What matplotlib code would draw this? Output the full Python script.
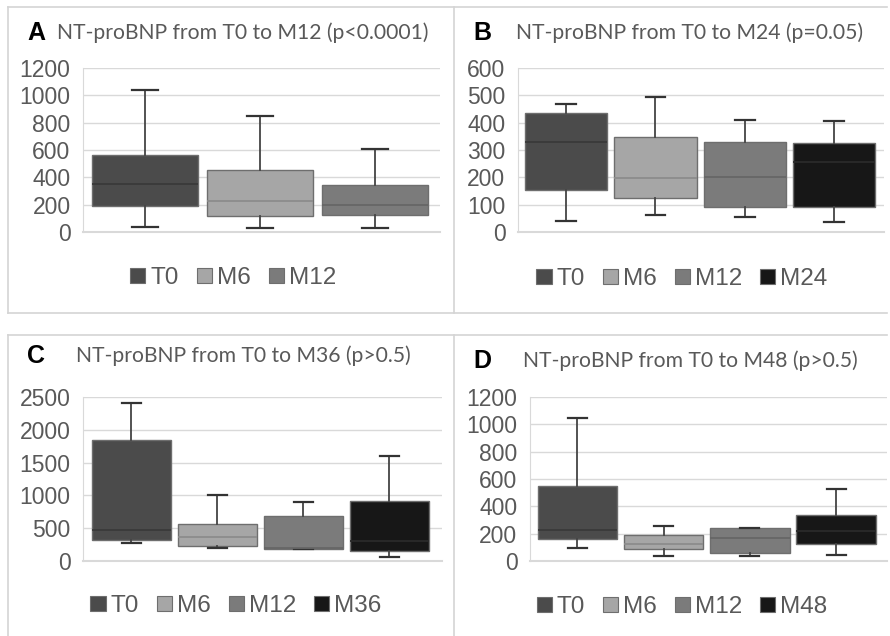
import matplotlib
matplotlib.use("Agg")
import matplotlib.pyplot as plt
from matplotlib.patches import Patch
from matplotlib.lines import Line2D

W, H = 890, 636

# ---------------- data ----------------
labels_A = ["T0", "M6", "M12"]
low_A = [39, 29, 29]
q1_A = [193, 115, 122]
med_A = [351, 229, 195]
q3_A = [561, 456, 346]
high_A = [1041, 846, 607]

labels_B = ["T0", "M6", "M12", "M24"]
low_B = [41, 62, 54, 38]
q1_B = [154, 124, 91, 90]
med_B = [329, 198, 202, 255]
q3_B = [435, 348, 329, 326]
high_B = [470, 494, 410, 405]

labels_C = ["T0", "M6", "M12", "M36"]
low_C = [269, 203, 183, 61]
q1_C = [315, 229, 183, 157]
med_C = [467, 361, 198, 305]
q3_C = [1839, 569, 691, 909]
high_C = [2403, 1011, 904, 1600]

labels_D = ["T0", "M6", "M12", "M48"]
low_D = [95, 37, 37, 44]
q1_D = [163, 85, 59, 124]
med_D = [224, 122, 166, 217]
q3_D = [546, 188, 241, 334]
high_D = [1046, 254, 241, 527]

titles = ["NT-proBNP from T0 to M12 (p<0.0001)",
          "NT-proBNP from T0 to M24 (p=0.05)",
          "NT-proBNP from T0 to M36 (p>0.5)",
          "NT-proBNP from T0 to M48 (p>0.5)"]
letters = ["A", "B", "C", "D"]
yticks_A = [0, 200, 400, 600, 800, 1000, 1200]
yticks_B = [0, 100, 200, 300, 400, 500, 600]
yticks_C = [0, 500, 1000, 1500, 2000, 2500]
yticks_D = [0, 200, 400, 600, 800, 1000, 1200]

colors = {"T0": "#4b4b4b", "M6": "#a6a6a6", "M12": "#7b7b7b",
          "M24": "#171717", "M36": "#171717", "M48": "#171717"}
med_colors = {"T0": "#3a3a3a", "M6": "#8c8c8c", "M12": "#666666",
              "M24": "#2a2a2a", "M36": "#2a2a2a", "M48": "#2a2a2a"}

panels = [
    dict(labels=labels_A, low=low_A, q1=q1_A, med=med_A, q3=q3_A, high=high_A,
         yticks=yticks_A, ax=(83, 68, 440, 232), xlim=(-0.54, 2.565),
         letter_xy=(27, 33), title_x=57, leg=(233, 278)),
    dict(labels=labels_B, low=low_B, q1=q1_B, med=med_B, q3=q3_B, high=high_B,
         yticks=yticks_B, ax=(518, 68, 884, 232), xlim=(-0.54, 3.56),
         letter_xy=(473, 33), title_x=516, leg=(682, 279)),
    dict(labels=labels_C, low=low_C, q1=q1_C, med=med_C, q3=q3_C, high=high_C,
         yticks=yticks_C, ax=(83, 397, 442, 561), xlim=(-0.56, 3.61),
         letter_xy=(27, 356), title_x=76, leg=(236, 606)),
    dict(labels=labels_D, low=low_D, q1=q1_D, med=med_D, q3=q3_D, high=high_D,
         yticks=yticks_D, ax=(530, 397, 887, 561), xlim=(-0.55, 3.59),
         letter_xy=(473, 361), title_x=523, leg=(682, 607)),
]

fig = plt.figure(figsize=(W / 100, H / 100), dpi=100)
fig.patch.set_facecolor("white")

def fx(x):
    return x / W

def fy(y):
    return 1 - y / H

# panel borders
border = "#d4d4d4"
for (x0, y0, x1, y1) in [(8, 7, 887, 7), (8, 7, 8, 313), (454, 7, 454, 313),
                         (8, 313, 887, 313), (8, 335, 887, 335),
                         (8, 335, 8, 636), (454, 335, 454, 636)]:
    fig.add_artist(Line2D([fx(x0), fx(x1)], [fy(y0), fy(y1)], color=border, lw=1.2))

grid_c = "#d9d9d9"
text_c = "#595959"

for i, p in enumerate(panels):
    x0, y0, x1, y1 = p["ax"]
    ax = fig.add_axes([fx(x0), fy(y1), fx(x1) - fx(x0), (y1 - y0) / H])
    n = len(p["labels"])
    stats = []
    for k in range(n):
        stats.append(dict(label=p["labels"][k], whislo=p["low"][k], q1=p["q1"][k],
                          med=p["med"][k], q3=p["q3"][k], whishi=p["high"][k], fliers=[]))
    bp = ax.bxp(stats, positions=list(range(n)), widths=0.92, patch_artist=True,
                showfliers=False, capwidths=0.22,
                whiskerprops=dict(color="#444444", lw=1.3),
                capprops=dict(color="#333333", lw=1.6),
                boxprops=dict(lw=1.0), medianprops=dict(lw=1.3), zorder=3)
    for k, lab in enumerate(p["labels"]):
        bp["boxes"][k].set_facecolor(colors[lab])
        bp["boxes"][k].set_edgecolor("#6e6e6e")
        bp["medians"][k].set_color(med_colors[lab])
    ax.set_xlim(*p["xlim"])
    ax.set_ylim(p["yticks"][0], p["yticks"][-1])
    ax.set_yticks(p["yticks"])
    ax.set_xticks([])
    ax.yaxis.grid(True, color=grid_c, lw=1.0, zorder=0)
    ax.set_axisbelow(True)
    for s in ["top", "right"]:
        ax.spines[s].set_visible(False)
    ax.spines["left"].set_color(grid_c)
    ax.spines["bottom"].set_color(grid_c)
    ax.spines["bottom"].set_linewidth(1.5)
    ax.tick_params(axis="y", length=0, pad=9, labelsize=16.5, labelcolor=text_c)
    for t in ax.get_yticklabels():
        t.set_fontfamily("Liberation Sans")

    # letter + title
    lx, ly = p["letter_xy"]
    fig.text(fx(lx), fy(ly), letters[i], fontsize=18, fontweight="bold",
             family="Liberation Sans", color="black", va="center", ha="left")
    fig.text(fx(p["title_x"]), fy(ly), titles[i], fontsize=15.2, family="Lato",
             color=text_c, va="center", ha="left")

    # legend
    handles = [Patch(facecolor=colors[l], edgecolor="#6e6e6e", lw=0.8) for l in p["labels"]]
    lgx, lgy = p["leg"]
    fig.legend(handles, p["labels"], loc="center", bbox_to_anchor=(fx(lgx), fy(lgy)),
               ncol=n, frameon=False, handlelength=0.62, handleheight=0.62,
               handletextpad=0.2, columnspacing=0.75, borderpad=0,
               prop=dict(family="Liberation Sans", size=17.5), labelcolor=text_c)

fig.savefig("out.png", dpi=100, facecolor="white")
